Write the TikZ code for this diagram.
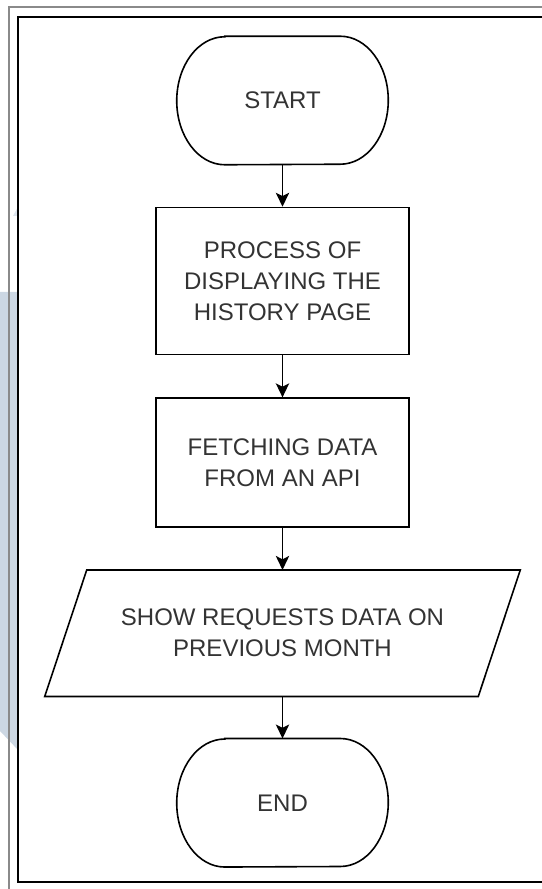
\documentclass[tikz,border=0pt]{standalone}
\usepackage{fontspec}
\setmainfont{Liberation Sans}
\usetikzlibrary{positioning,arrows.meta}

\definecolor{markblue}{HTML}{CCD7E3}
\definecolor{marktip}{HTML}{DDE5EE}
\definecolor{framegray}{HTML}{8A8A8A}
\definecolor{txtgray}{HTML}{333333}

% outline of a terminal node: flat top and bottom, elliptic ends
\newcommand{\termoutline}[1]{%
  \draw[shapeline] ([xshift=36pt]#1.north west) -- ([xshift=-36pt]#1.north east)
    arc[start angle=90, end angle=-90, x radius=36pt, y radius=48pt]
    -- ([xshift=36pt]#1.south west)
    arc[start angle=270, end angle=90, x radius=36pt, y radius=48pt] -- cycle;}
% outline of an input/output node: slanted sides
\newcommand{\iooutline}[1]{%
  \draw[shapeline] ([xshift=31.5pt]#1.north west) -- (#1.north east)
    -- ([xshift=-31.5pt]#1.south east) -- (#1.south west) -- cycle;}

\tikzset{
  shapeline/.style={draw=black, line width=1.2pt},
  label text/.style={text=txtgray, align=center, font=\fontsize{18}{23.25}\selectfont},
  term/.style={label text, minimum width=158.25pt, minimum height=96pt, inner sep=0pt},
  procbox/.style={shapeline, label text, minimum width=189.75pt, minimum height=96.75pt},
  iobox/.style={label text, minimum width=356.25pt, minimum height=94.5pt, inner sep=0pt},
  flow/.style={line width=1.2pt, -{Stealth[length=10.5pt, width=10pt, inset=2.5pt]}}
}

\begin{document}
\begin{tikzpicture}[x=0.75pt, y=0.75pt, node distance=31.5pt]
  \useasboundingbox (0,0) rectangle (542,889);

  % faint mark behind the left edge
  \fill[markblue] (0,597) -- (18,597) -- (18,139) -- (0,158) -- cycle;
  \fill[marktip] (13,673) -- (18,682) -- (18,673) -- cycle;

  % frames
  \draw[framegray, line width=1.4pt] (9,0) -- (9,882) -- (542,882);
  \draw[black, line width=1.4pt] (542,872) -- (18,872) -- (18,7) -- (542,7);

  % steps
  \node[term] (start) at (282.5,788.5) {START};
  \node[procbox, below=of start, minimum height=110.25pt] (history)
    {PROCESS OF\\DISPLAYING THE\\HISTORY PAGE};
  \node[procbox, below=of history] (fetch) {FETCHING DATA\\FROM AN API};
  \node[iobox, below=of fetch] (show) {SHOW REQUESTS DATA ON\\PREVIOUS MONTH};
  \node[term, below=of show] (finish) {END};
  \termoutline{start}
  \iooutline{show}
  \termoutline{finish}

  % connectors
  \draw[flow] (start) -- (history);
  \draw[flow] (history) -- (fetch);
  \draw[flow] (fetch) -- (show);
  \draw[flow] (show) -- (finish);
\end{tikzpicture}
\end{document}
